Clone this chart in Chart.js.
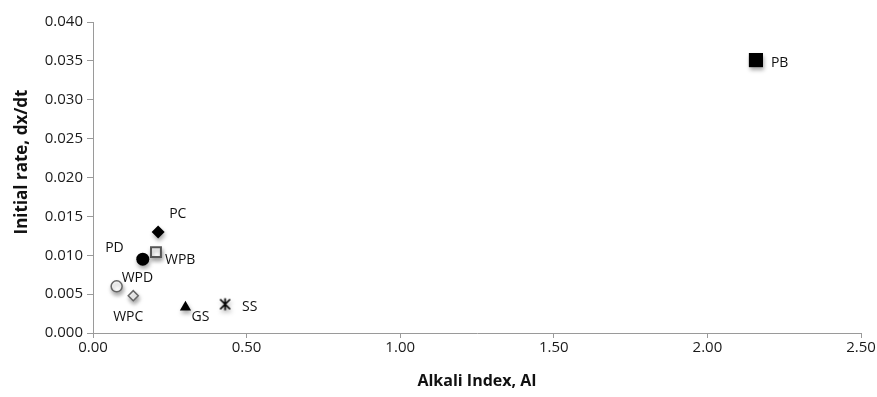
<!DOCTYPE html>
<html>
<head>
<meta charset="utf-8">
<script src="https://cdn.jsdelivr.net/npm/chart.js@4"></script>
<style>
  html, body { margin: 0; padding: 0; background: #fff; }
  #wrap { width: 877px; height: 397px; }
</style>
</head>
<body>
<div id="wrap"><canvas id="aiChart" width="877" height="397"></canvas></div>
<script>
// values
const samples = ['PB', 'PC', 'WPB', 'PD', 'WPD', 'WPC', 'GS', 'SS'];
const alkaliIndex = [2.158, 0.212, 0.205, 0.162, 0.077, 0.131, 0.301, 0.430];
const initialRate = [0.0351, 0.0130, 0.0104, 0.0095, 0.0060, 0.0048, 0.0033, 0.0037];

const xMin = 0, xMax = 2.5, xStep = 0.5;
const yMin = 0, yMax = 0.04, yStep = 0.005;

// marker looks, one per sample
const markerStyles = ['rect', 'rectRot', 'rect', 'circle', 'circle', 'rectRot', 'triangle', 'star6'];
const markerSizes = [10, 6.5, 7, 6.5, 5.5, 5, 6.5, 6];
const markerFill = ['#000', '#000', '#fff', '#000', '#fff', '#fff', '#000', '#000'];
const markerLine = ['#000', '#000', '#555', '#000', '#666', '#666', '#000', '#000'];
const markerLineWidth = [0, 0, 2, 0, 1.5, 1.5, 0, 0];

// where each label sits relative to its marker: dx, dy, align
const labelOffsets = [
    [15, 3, 'left'], [11, -18, 'left'], [9, 8, 'left'], [-19, -11, 'right'],
    [5, -8, 'left'], [-5, 21, 'center'], [6, 10, 'left'], [17, 3, 'left']
];

function starMarker() {
    const c = document.createElement('canvas');
    c.width = 15; c.height = 15;
    const g = c.getContext('2d');
    g.strokeStyle = '#000';
    g.lineWidth = 1.7;
    g.beginPath();
    g.moveTo(2.5, 2.5); g.lineTo(12.5, 12.5);
    g.moveTo(12.5, 2.5); g.lineTo(2.5, 12.5);
    g.moveTo(7.5, 1.5); g.lineTo(7.5, 13.5);
    g.stroke();
    return c;
}
const star = starMarker();

const points = alkaliIndex.map((x, i) => ({ x: x, y: initialRate[i] }));

const shadowPlugin = {
    id: 'shadow',
    beforeDatasetsDraw(chart) {
        const ctx = chart.ctx;
        ctx.save();
        ctx.shadowColor = 'rgba(0,0,0,0.35)';
        ctx.shadowBlur = 4;
        ctx.shadowOffsetX = 1;
        ctx.shadowOffsetY = 3;
    },
    afterDatasetsDraw(chart) {
        chart.ctx.restore();
    }
};

const labelPlugin = {
    id: 'pointLabels',
    afterDatasetsDraw(chart) {
        const ctx = chart.ctx;
        const xs = chart.scales.x, ys = chart.scales.y;
        ctx.save();
        ctx.font = '14px "Open Sans"';
        ctx.fillStyle = '#111';
        ctx.textBaseline = 'middle';
        samples.forEach((name, i) => {
            const off = labelOffsets[i];
            ctx.textAlign = off[2];
            ctx.fillText(name, xs.getPixelForValue(alkaliIndex[i]) + off[0], ys.getPixelForValue(initialRate[i]) + off[1]);
        });
        ctx.restore();
    }
};

const axisGray = '#9a9a9a';

new Chart(document.getElementById('aiChart'), {
    type: 'scatter',
    data: {
        datasets: [{
            label: 'Initial rate',
            data: points,
            pointStyle: markerStyles.map(s => s === 'star6' ? star : s),
            pointRadius: markerSizes,
            pointBackgroundColor: markerFill,
            pointBorderColor: markerLine,
            pointBorderWidth: markerLineWidth,
            showLine: false
        }]
    },
    options: {
        responsive: false,
        animation: false,
        events: [],
        layout: { padding: { top: 22, right: 16, left: 0, bottom: 0 } },
        plugins: {
            legend: { display: false },
            tooltip: { enabled: false }
        },
        scales: {
            x: {
                type: 'linear',
                min: xMin, max: xMax,
                afterFit(scale) { scale.height = 64; },
                border: { color: axisGray, width: 1 },
                grid: { display: true, drawOnChartArea: false, drawTicks: true, tickLength: 5, color: axisGray },
                ticks: {
                    stepSize: xStep,
                    padding: 1,
                    color: '#1a1a1a',
                    font: { family: 'Open Sans', size: 15 },
                    maxRotation: 0,
                    callback: v => v.toFixed(2)
                },
                title: {
                    display: true,
                    text: 'Alkali Index, AI',
                    color: '#111',
                    font: { family: 'Open Sans', size: 16, weight: 'bold' },
                    padding: { top: 0, bottom: 6 }
                }
            },
            y: {
                type: 'linear',
                min: yMin, max: yMax,
                afterFit(scale) { scale.width = 93; },
                border: { color: axisGray, width: 1 },
                grid: { display: true, drawOnChartArea: false, drawTicks: true, tickLength: 6, color: axisGray },
                ticks: {
                    stepSize: yStep,
                    padding: 4,
                    color: '#1a1a1a',
                    font: { family: 'Open Sans', size: 15 },
                    callback: v => v.toFixed(3)
                },
                title: {
                    display: true,
                    // leading gaps lift the title a little, as in the original
                    text: '\u00a0\u00a0\u00a0\u00a0\u00a0\u00a0\u00a0Initial rate, dx/dt',
                    color: '#111',
                    font: { family: 'Open Sans', size: 17, weight: 'bold' },
                    padding: { top: 12, bottom: 0 }
                }
            }
        }
    },
    plugins: [shadowPlugin, labelPlugin]
});
</script>
</body>
</html>
